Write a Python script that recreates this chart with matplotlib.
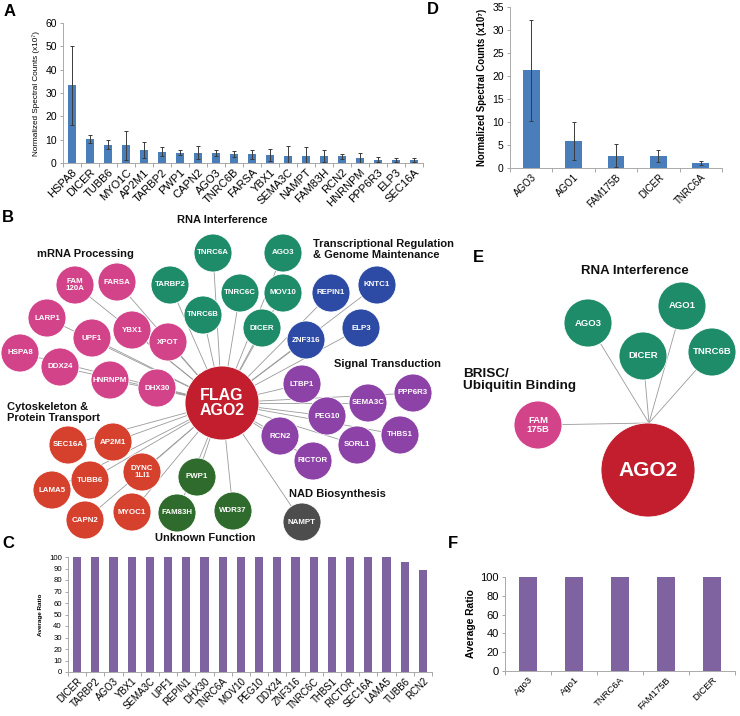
import numpy as np
import matplotlib
matplotlib.use("Agg")
import matplotlib.pyplot as plt
from matplotlib.patches import Circle

plt.rcParams['font.family'] = ['Liberation Sans', 'DejaVu Sans']

# ---------------- data ----------------
A_genes = ["HSPA8", "DICER", "TUBB6", "MYO1C", "AP2M1", "TARBP2", "PWP1", "CAPN2", "AGO3", "TNRC6B",
           "FARSA", "YBX1", "SEMA3C", "NAMPT", "FAM83H", "RCN2", "HNRNPM", "PPP6R3", "ELP3", "SEC16A"]
A_values = [33.3, 10.3, 7.9, 7.6, 5.6, 4.9, 4.5, 4.4, 4.2, 4.0,
            3.7, 3.5, 3.2, 3.2, 3.0, 2.8, 2.2, 1.5, 1.3, 1.3]
A_errors = [17.0, 1.8, 2.1, 6.2, 3.3, 2.1, 1.2, 2.8, 1.4, 1.3,
            1.8, 2.5, 4.0, 3.7, 2.5, 1.0, 2.0, 1.2, 0.9, 0.9]

D_genes = ["AGO3", "AGO1", "FAM175B", "DICER", "TNRC6A"]
D_values = [21.2, 5.9, 2.7, 2.6, 1.1]
D_errors = [11.0, 4.2, 2.5, 1.35, 0.35]

C_genes = ["DICER", "TARBP2", "AGO3", "YBX1", "SEMA3C", "UPF1", "REPIN1", "DHX30", "TNRC6A", "MOV10",
           "PEG10", "DDX24", "ZNF316", "TNRC6C", "THBS1", "RICTOR", "SEC16A", "LAMA5", "TUBB6", "RCN2"]
C_values = [100, 100, 100, 100, 100, 100, 100, 100, 100, 100,
            100, 100, 100, 100, 100, 100, 100, 100, 96, 89]

F_genes = ["Ago3", "Ago1", "TNRC6A", "FAM175B", "DICER"]
F_values = [100, 100, 100, 100, 100]

# network B: node labels, groups, layout positions (pixels)
B_nodes = ["FAM\n120A", "FARSA", "LARP1", "UPF1", "YBX1", "XPOT", "HSPA8", "DDX24", "HNRNPM", "DHX30",
           "TNRC6A", "AGO3", "TARBP2", "TNRC6C", "MOV10", "TNRC6B", "DICER",
           "REPIN1", "KNTC1", "ZNF316", "ELP3",
           "LTBP1", "PPP6R3", "SEMA3C", "PEG10", "RCN2", "SORL1", "THBS1", "RICTOR",
           "SEC16A", "AP2M1", "DYNC\n1LI1", "TUBB6", "LAMA5", "CAPN2", "MYOC1",
           "PWP1", "FAM83H", "WDR37", "NAMPT"]
B_groups = ["mrna"] * 10 + ["rnai"] * 7 + ["tx"] * 4 + ["sig"] * 8 + ["cyto"] * 7 + ["unk"] * 3 + ["nad"]
B_x = [75, 117, 47, 92, 132, 168, 20, 60, 110, 157,
       213, 283, 170, 240, 283, 203, 262,
       331, 377, 306, 361,
       302, 413, 368, 327, 280, 357, 400, 313,
       68, 113, 142, 90, 52, 85, 132,
       197, 177, 233, 302]
B_y = [285, 282, 318, 338, 330, 342, 353, 367, 380, 388,
       253, 253, 285, 293, 293, 315, 328,
       293, 285, 340, 328,
       384, 393, 403, 416, 436, 445, 435, 461,
       445, 442, 472, 480, 490, 520, 512,
       477, 513, 511, 522]
B_hub = ("FLAG\nAGO2", 222, 403)

E_nodes = ["AGO3", "AGO1", "DICER", "TNRC6B", "FAM\n175B"]
E_groups = ["rnai", "rnai", "rnai", "rnai", "mrna"]
E_x = [588, 682, 643, 712, 538]
E_y = [323, 306, 356, 352, 425]
E_hub = ("AGO2", 648, 470)

colors = {"mrna": "#d2438a", "rnai": "#1e8c69", "tx": "#2d4ba5", "sig": "#8c42a6",
          "cyto": "#d6412d", "unk": "#2f6b2c", "nad": "#4d4d4d", "hub": "#c21e2e"}

BLUE = "#4a7ebb"
PURPLE = "#7f63a1"

# ---------------- figure ----------------
W, H = 740, 716
fig = plt.figure(figsize=(W / 100, H / 100), dpi=100)

net = fig.add_axes([0, 0, 1, 1])
net.set_xlim(0, W)
net.set_ylim(H, 0)
net.axis('off')


def box(x0, y0, x1, y1):
    return fig.add_axes([x0 / W, 1 - y1 / H, (x1 - x0) / W, (y1 - y0) / H])


def barchart(ax, labels, vals, errs, color, width, ymax, ystep, xfs, yfs):
    n = len(labels)
    x = np.arange(n)
    if errs is not None:
        ax.bar(x, vals, width, color=color, yerr=errs,
               error_kw=dict(ecolor="#3a3a3a", elinewidth=0.7, capsize=1.6, capthick=0.7))
    else:
        ax.bar(x, vals, width, color=color)
    ax.set_xlim(-0.5, n - 0.5)
    ax.set_ylim(0, ymax)
    ax.set_yticks(np.arange(0, ymax + 0.01, ystep))
    ax.tick_params(axis='y', labelsize=yfs, length=2.5, width=0.6, color="#999999", pad=2)
    ax.set_xticks(x)
    ax.set_xticklabels(labels, rotation=45, ha='right', rotation_mode='anchor', fontsize=xfs)
    ax.tick_params(axis='x', which='major', length=0, pad=3)
    ax.set_xticks(np.arange(-0.5, n, 1), minor=True)
    ax.tick_params(axis='x', which='minor', length=3, width=0.6, color="#999999")
    for s in ("top", "right"):
        ax.spines[s].set_visible(False)
    for s in ("left", "bottom"):
        ax.spines[s].set_color("#aaaaaa")
        ax.spines[s].set_linewidth(0.7)


# Panel A
axA = box(63, 23, 423, 163)
barchart(axA, A_genes, A_values, A_errors, BLUE, 0.42, 60, 10, 8, 7.5)
axA.set_ylabel("Normalized Spectral Counts (x10\u2077)", fontsize=5.9, labelpad=4)

# Panel D
axD = box(510, 7, 722, 168)
barchart(axD, D_genes, D_values, D_errors, BLUE, 0.4, 35, 5, 7, 7.5)
axD.set_ylabel("Normalized Spectral Counts (x10\u2077)", fontsize=6.9, fontweight='bold', labelpad=4)

# Panel C
axC = box(68, 557, 432, 672)
barchart(axC, C_genes, C_values, None, PURPLE, 0.45, 100, 10, 7, 5.6)
axC.set_ylabel("Average Ratio", fontsize=4.6, fontweight='bold', labelpad=4)

# Panel F
axF = box(505, 577, 735, 671)
barchart(axF, F_genes, F_values, None, PURPLE, 0.4, 100, 20, 6.8, 8)
axF.set_ylabel("Average Ratio", fontsize=7.4, fontweight='bold', labelpad=3)


# ---------------- networks ----------------
def draw_network(names, groups, xs, ys, hub, r, hub_r, fs, hub_fs, target=None):
    hname, hx, hy = hub
    tx, ty = (hx, hy) if target is None else target
    for x, y in zip(xs, ys):
        net.plot([x, tx], [y, ty], color="#9a9a9a", lw=0.6, zorder=1)
    for name, g, x, y in zip(names, groups, xs, ys):
        net.add_patch(Circle((x, y), r, facecolor=colors[g], edgecolor="white", lw=0.6, zorder=2))
        net.text(x, y, name, ha='center', va='center', color='white', fontsize=fs,
                 fontweight='bold', linespacing=1.05, zorder=3)
    net.add_patch(Circle((hx, hy), hub_r, facecolor=colors["hub"], edgecolor="white", lw=0.6, zorder=4))
    net.text(hx, hy, hname, ha='center', va='center', color='white', fontsize=hub_fs,
             fontweight='bold', linespacing=1.0, zorder=5)


draw_network(B_nodes, B_groups, B_x, B_y, B_hub, 19, 37, 5.7, 11.5)
draw_network(E_nodes, E_groups, E_x, E_y, E_hub, 24, 47, 6.8, 15, target=(649, 423))

tkw = dict(fontweight='bold', color='#111111')
net.text(222, 220, "RNA Interference", ha='center', va='center', fontsize=8, **tkw)
net.text(85, 254, "mRNA Processing", ha='center', va='center', fontsize=8, **tkw)
net.text(313, 249.5, "Transcriptional Regulation\n& Genome Maintenance", ha='left', va='center',
         fontsize=8, linespacing=1.05, **tkw)
net.text(387, 364, "Signal Transduction", ha='center', va='center', fontsize=8, **tkw)
net.text(7, 412.5, "Cytoskeleton &\nProtein Transport", ha='left', va='center',
         fontsize=8, linespacing=1.05, **tkw)
net.text(337, 494, "NAD Biosynthesis", ha='center', va='center', fontsize=8, **tkw)
net.text(205, 538, "Unknown Function", ha='center', va='center', fontsize=8, **tkw)

net.text(635, 271, "RNA Interference", ha='center', va='center', fontsize=9.5, **tkw)
net.text(463, 380, "BRISC/\nUbiquitin Binding", ha='left', va='center', fontsize=9.7,
         linespacing=1.1, **tkw)

lkw = dict(fontsize=12, fontweight='bold', ha='center', va='center', color='black')
net.text(10, 11, "A", **lkw)
net.text(8, 217, "B", **lkw)
net.text(8, 543, "C", **lkw)
net.text(433, 10, "D", **lkw)
net.text(478, 257, "E", **lkw)
net.text(453, 544, "F", **lkw)

fig.savefig("out.png", dpi=100)
